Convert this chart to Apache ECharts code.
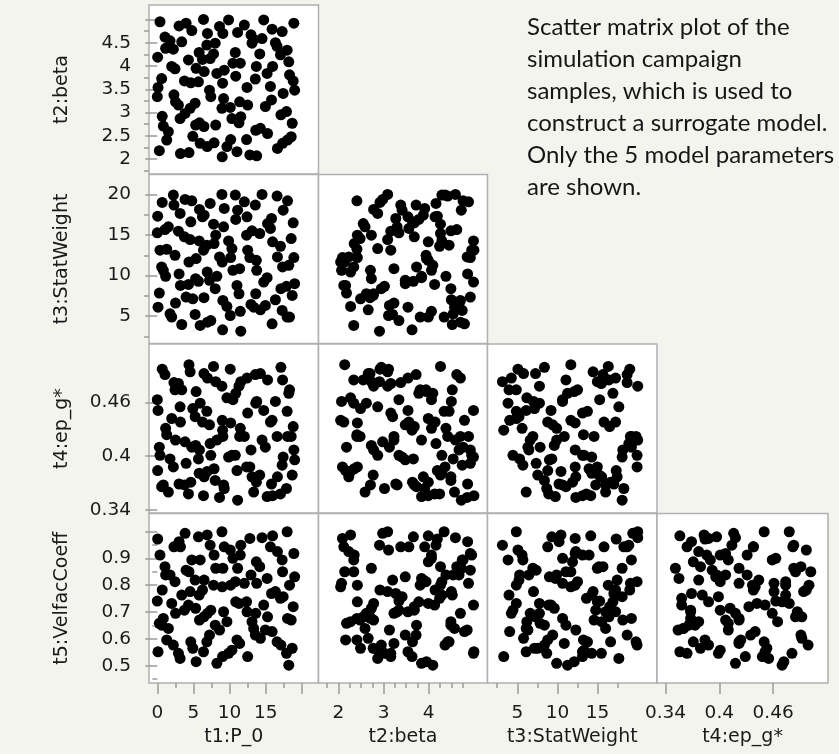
<!DOCTYPE html>
<html>
<head>
<meta charset="utf-8">
<script src="https://cdn.jsdelivr.net/npm/echarts@6/dist/echarts.min.js"></script>
<style>
  html, body { margin: 0; padding: 0; background: #f4f4ef; }
  #chart { width: 839px; height: 754px; }
</style>
</head>
<body>
<div id="chart"></div>
<script>
// sample values, read from the first column of the matrix (sorted by t1)
var t1 = [0.00, 0.05, 0.10, 0.28, 0.37, 0.60, 0.68, 0.83, 1.06, 1.15,
  1.30, 1.53, 1.76, 1.99, 2.22, 2.30, 2.45, 2.52, 2.92, 3.01,
  3.15, 3.20, 3.38, 3.75, 3.84, 3.98, 4.31, 4.38, 4.54, 4.63,
  4.77, 4.91, 5.23, 5.30, 5.37, 5.69, 5.79, 5.83, 5.93, 6.25,
  6.39, 6.45, 6.48, 6.85, 6.90, 6.94, 7.22, 7.31, 7.40, 7.78,
  7.85, 8.01, 8.08, 8.24, 8.61, 8.94, 8.98, 9.03, 9.07, 9.17,
  9.26, 9.63, 9.86, 10.09, 10.15, 10.32, 10.46, 10.79, 10.85, 11.02,
  11.11, 11.30, 11.39, 11.48, 11.55, 12.04, 12.35, 12.41, 12.50, 12.80,
  12.96, 13.10, 13.33, 13.56, 13.62, 13.70, 13.75, 14.17, 14.26, 14.49,
  14.72, 14.95, 15.19, 15.25, 15.65, 15.80, 15.88, 15.95, 16.34, 16.57,
  16.62, 17.04, 17.10, 17.27, 17.33, 17.41, 17.87, 17.96, 18.02, 18.19,
  18.29, 18.52, 18.66, 18.80, 18.89, 19.00];

var t2 = [3.34, 4.19, 3.54, 2.18, 4.95, 3.73, 2.92, 2.71, 4.62, 4.38,
  2.41, 2.59, 4.54, 3.99, 4.36, 3.38, 3.94, 3.23, 3.16, 4.86,
  2.87, 2.12, 4.52, 3.68, 2.98, 4.92, 4.13, 2.14, 3.09, 3.64,
  4.76, 2.49, 3.20, 2.73, 3.95, 3.66, 4.29, 2.78, 2.34, 4.14,
  5.00, 2.70, 3.88, 4.45, 2.27, 4.70, 3.48, 4.16, 3.34, 4.26,
  2.35, 4.49, 2.73, 3.84, 4.85, 3.09, 2.05, 3.63, 4.70, 3.30,
  3.91, 2.27, 4.99, 3.11, 2.42, 2.87, 4.06, 4.29, 3.78, 2.16,
  4.72, 2.78, 3.23, 4.06, 2.91, 4.88, 2.42, 3.54, 3.16, 2.09,
  4.67, 4.49, 4.57, 3.72, 2.62, 3.99, 2.07, 4.26, 2.66, 4.59,
  4.99, 3.13, 3.84, 2.55, 3.56, 3.27, 4.79, 3.99, 4.50, 4.42,
  2.23, 4.24, 2.95, 4.74, 2.34, 3.41, 3.02, 4.34, 2.41, 4.09,
  3.81, 2.48, 2.77, 3.68, 4.92, 3.48];

var t3 = [15.26, 17.32, 6.11, 7.84, 13.12, 11.06, 19.01, 10.64, 15.67, 9.90,
  13.24, 16.00, 5.29, 4.88, 19.92, 18.68, 12.50, 6.61, 15.47, 10.20,
  17.65, 8.79, 3.97, 14.77, 19.38, 7.35, 8.91, 11.67, 14.44, 16.62,
  19.21, 7.14, 5.21, 9.61, 12.09, 9.30, 14.27, 18.14, 3.85, 17.24,
  13.12, 7.27, 17.44, 13.74, 10.44, 4.26, 9.41, 18.89, 4.46, 16.33,
  13.94, 8.38, 14.97, 9.90, 12.29, 20.00, 11.67, 3.31, 6.94, 16.00,
  18.27, 6.19, 14.27, 5.08, 12.21, 13.32, 10.64, 19.92, 16.91, 8.79,
  18.06, 7.76, 10.85, 5.60, 3.15, 19.09, 14.97, 17.24, 13.12, 12.21,
  6.44, 15.51, 6.11, 18.68, 7.76, 11.88, 10.64, 15.18, 5.78, 20.00,
  9.20, 6.32, 9.74, 16.41, 15.80, 17.03, 4.05, 14.15, 7.02, 19.79,
  12.29, 13.61, 8.38, 5.70, 11.06, 18.06, 8.67, 4.88, 19.21, 11.26,
  4.88, 14.56, 7.55, 16.50, 12.21, 9.00];

var t4 = [0.463, 0.384, 0.451, 0.410, 0.401, 0.366, 0.497, 0.368, 0.491, 0.431,
  0.424, 0.360, 0.397, 0.442, 0.388, 0.482, 0.474, 0.418, 0.481, 0.369,
  0.455, 0.438, 0.474, 0.368, 0.416, 0.392, 0.358, 0.502, 0.494, 0.371,
  0.410, 0.453, 0.444, 0.412, 0.472, 0.397, 0.381, 0.407, 0.459, 0.438,
  0.356, 0.492, 0.377, 0.450, 0.383, 0.487, 0.435, 0.414, 0.401, 0.500,
  0.386, 0.373, 0.483, 0.418, 0.354, 0.478, 0.440, 0.429, 0.422, 0.368,
  0.364, 0.465, 0.399, 0.497, 0.437, 0.401, 0.463, 0.401, 0.470, 0.384,
  0.351, 0.478, 0.422, 0.431, 0.483, 0.422, 0.388, 0.487, 0.448, 0.388,
  0.407, 0.377, 0.360, 0.491, 0.459, 0.371, 0.461, 0.379, 0.492, 0.418,
  0.451, 0.410, 0.355, 0.485, 0.438, 0.369, 0.440, 0.356, 0.461, 0.422,
  0.377, 0.358, 0.499, 0.390, 0.485, 0.399, 0.364, 0.450, 0.422, 0.470,
  0.474, 0.422, 0.379, 0.433, 0.407, 0.396];

var t5 = [0.741, 0.972, 0.552, 0.658, 0.912, 0.651, 0.782, 0.676, 0.869, 0.838,
  0.596, 0.639, 0.838, 0.732, 0.577, 0.943, 0.813, 0.695, 0.546, 0.962,
  0.527, 0.943, 0.763, 0.707, 0.993, 0.856, 0.726, 0.850, 0.776, 0.589,
  0.894, 0.565, 0.819, 0.714, 0.515, 0.980, 0.763, 0.670, 0.894, 0.782,
  0.552, 0.682, 0.819, 0.589, 0.987, 0.695, 0.614, 0.949, 0.707, 0.800,
  0.912, 0.651, 0.863, 0.509, 0.633, 0.999, 0.794, 0.534, 0.863, 0.701,
  0.943, 0.664, 0.546, 0.931, 0.800, 0.558, 0.900, 0.813, 0.738, 0.596,
  0.863, 0.732, 0.583, 0.912, 0.949, 0.807, 0.738, 0.701, 0.534, 0.974,
  0.838, 0.664, 0.639, 0.614, 0.695, 0.887, 0.807, 0.869, 0.602, 0.977,
  0.726, 0.633, 0.825, 0.682, 0.943, 0.769, 0.627, 0.984, 0.776, 0.589,
  0.925, 0.751, 0.577, 0.894, 0.850, 0.757, 0.546, 0.999, 0.676, 0.502,
  0.800, 0.670, 0.565, 0.720, 0.918, 0.831];

var names = ['t1:P_0', 't2:beta', 't3:StatWeight', 't4:ep_g*', 't5:VelfacCoeff'];
var vars = [t1, t2, t3, t4, t5];

// tick values per variable (index = variable)
var xMajor = [[0, 5, 10, 15, 20], [2, 3, 4], [5, 10, 15], [0.34, 0.4, 0.46]];
var xMinor = [[2.5, 7.5, 12.5, 17.5], [1.75, 2.25, 2.5, 2.75, 3.25, 3.5, 3.75, 4.25, 4.5, 4.75], [2.5, 7.5, 12.5, 17.5], []];
var xLabels = [[0, 5, 10, 15], [2, 3, 4], [5, 10, 15], [0.34, 0.4, 0.46]];
var yMajor = [null, [2, 2.5, 3, 3.5, 4, 4.5, 5], [5, 10, 15, 20], [0.34, 0.4, 0.46], [0.5, 0.6, 0.7, 0.8, 0.9, 1.0]];
var yMinor = [null, [1.75, 2.25, 2.75, 3.25, 3.75, 4.25, 4.75], [2.5, 7.5, 12.5, 17.5], [], [0.45, 0.55, 0.65, 0.75, 0.85, 0.95]];
var yLabels = [null, [2, 2.5, 3, 3.5, 4, 4.5], [5, 10, 15, 20], [0.34, 0.4, 0.46], [0.5, 0.6, 0.7, 0.8, 0.9]];

var note = ['Scatter matrix plot of the', 'simulation campaign', 'samples, which is used to',
  'construct a surrogate model.', 'Only the 5 model parameters', 'are shown.'];

// axis extents and panel layout
var xRange = [[-1.15, 22.3], [1.56, 5.30], [1.29, 22.4], [0.3305, 0.5212]];
var yRange = [null, [1.68, 5.31], [1.63, 22.45], [0.3367, 0.525], [0.4356, 1.067]];
var colLeft = [149, 318.5, 487.5, 657];
var colW = [169.5, 169, 169.5, 171];
var rowTop = [5, 174.5, 344, 513.5];
var rowH = [169, 169, 169, 169.5];

var FONT = 'DejaVu Sans';
var tickColor = '#9a9a9a';
var fmt = function (v) { return String(+(+v).toFixed(4)); };

var grids = [], xAxes = [], yAxes = [], series = [];

for (var r = 0; r < 4; r++) {
  for (var c = 0; c <= r; c++) {
    var gi = grids.length;
    var yv = r + 1;
    var bottom = (r === 3), left = (c === 0);
    grids.push({
      left: colLeft[c], top: rowTop[r], width: colW[c], height: rowH[r],
      show: true, backgroundColor: '#fff', borderColor: '#b0b0b0', borderWidth: 1.5
    });

    var xi = xAxes.length;
    xAxes.push({
      gridIndex: gi, type: 'value', position: 'bottom', min: xRange[c][0], max: xRange[c][1],
      splitLine: { show: false }, axisLine: { show: false },
      axisTick: { show: bottom, length: 11, customValues: xMajor[c], lineStyle: { color: tickColor, width: 1.5 } },
      axisLabel: { show: bottom, customValues: xLabels[c], formatter: fmt, margin: 21,
        fontFamily: FONT, fontSize: 18.5, color: '#1a1a1a', hideOverlap: false },
      name: bottom ? names[c] : '', nameLocation: 'middle', nameGap: 45,
      nameTextStyle: { fontFamily: FONT, fontSize: 19, color: '#1a1a1a' }
    });
    if (bottom) {
      // second axis only carries the short minor ticks
      xAxes.push({
        gridIndex: gi, type: 'value', position: 'bottom', min: xRange[c][0], max: xRange[c][1],
        splitLine: { show: false }, axisLine: { show: false }, axisLabel: { show: false },
        axisTick: { show: true, length: 5, customValues: xMinor[c], lineStyle: { color: tickColor, width: 1.5 } }
      });
    }

    var yi = yAxes.length;
    yAxes.push({
      gridIndex: gi, type: 'value', position: 'left', min: yRange[yv][0], max: yRange[yv][1],
      splitLine: { show: false }, axisLine: { show: false },
      axisTick: { show: left, length: 12, customValues: yMajor[yv], lineStyle: { color: tickColor, width: 1.5 } },
      axisLabel: { show: left, customValues: yLabels[yv], formatter: fmt, margin: 18,
        fontFamily: FONT, fontSize: 18.5, color: '#1a1a1a', hideOverlap: false },
      name: left ? names[yv] : '', nameLocation: 'middle', nameRotate: 90, nameGap: 77,
      nameTextStyle: { fontFamily: FONT, fontSize: 19, color: '#1a1a1a' }
    });
    if (left) {
      yAxes.push({
        gridIndex: gi, type: 'value', position: 'left', min: yRange[yv][0], max: yRange[yv][1],
        splitLine: { show: false }, axisLine: { show: false }, axisLabel: { show: false },
        axisTick: { show: true, length: 5, customValues: yMinor[yv], lineStyle: { color: tickColor, width: 1.5 } }
      });
    }

    var pts = [];
    for (var i = 0; i < t1.length; i++) pts.push([vars[c][i], vars[yv][i]]);
    series.push({
      type: 'scatter', xAxisIndex: xi, yAxisIndex: yi, data: pts,
      symbol: 'circle', symbolSize: 11, itemStyle: { color: '#000', opacity: 1 }, silent: true
    });
  }
}

var chart = echarts.init(document.getElementById('chart'));
chart.setOption({
  backgroundColor: '#f4f4ef',
  animation: false,
  grid: grids,
  xAxis: xAxes,
  yAxis: yAxes,
  series: series,
  graphic: [{
    type: 'text', left: 527, top: 11,
    style: { text: note.join('\n'), font: '24px Lato', lineHeight: 32, fill: '#161616' }
  }]
});
window.onresize = function () { chart.resize(); };
</script>
</body>
</html>
